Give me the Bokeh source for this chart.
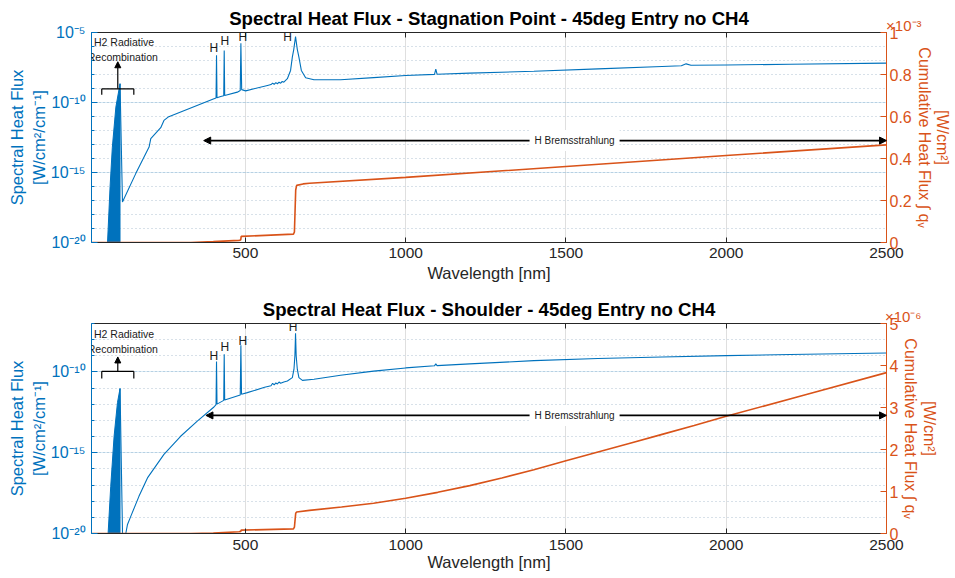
import math
import numpy as np
from bokeh.plotting import figure
from bokeh.models import (Range1d, LinearAxis, LinearScale, FixedTicker,
                          CustomJSTickFormatter, Label, Arrow, NormalHead, Title)
from bokeh.layouts import column
from bokeh.embed import file_html
from bokeh.resources import INLINE

FONT = "Liberation Sans"
BLUE = "#0072BD"
ORANGE = "#D95319"
DARK = "#262626"

X_RANGE = (20, 2500)
X_TICKS = [500, 1000, 1500, 2000, 2500]

# ---------------- Stagnation point (top) ----------------
STAG_TITLE = "Spectral Heat Flux - Stagnation Point - 45deg Entry no CH4"
STAG_H2_WL = [70, 78, 85, 96, 109]
STAG_H2_LOG10 = [-20.0, -16.0, -13.2, -10.33, -8.66]
STAG_WL = [109, 116.6, 158, 199.6, 204.9, 236, 246, 259, 402, 408.5, 410, 411.5,
           423, 432.5, 434, 435.5, 475, 484, 486, 488.5, 501, 569, 580, 585, 590,
           595, 600, 605, 610, 615, 620, 631, 641, 646.5, 651, 656.5, 662, 667,
           674.6, 688, 714, 797, 900, 1000, 1090, 1094, 1098, 1200, 1400, 1600,
           1800, 1860, 1875, 1890, 2000, 2200, 2500]
STAG_LOG10 = [-8.66, -17.1, -15.08, -13.18, -12.58, -11.80, -11.28, -11.04, -9.73,
              -9.68, -6.62, -9.66, -9.57, -9.52, -6.28, -9.50, -9.26, -9.15, -5.76,
              -9.08, -9.17, -8.78, -8.72, -8.62, -8.70, -8.58, -8.66, -8.55, -8.62,
              -8.50, -8.55, -8.30, -7.71, -6.76, -6.20, -5.29, -6.20, -6.76, -7.71,
              -8.23, -8.37, -8.37, -8.22, -8.07, -7.99, -7.62, -7.98, -7.90, -7.77,
              -7.60, -7.43, -7.38, -7.24, -7.34, -7.32, -7.27, -7.19]
STAG_CUM_WL = [20, 330, 400, 480, 485.5, 487, 650, 653, 655, 657, 660, 680, 700,
               1000, 1500, 2000, 2500]
STAG_CUM_E3 = [0, 0, 0.004, 0.010, 0.012, 0.029, 0.040, 0.050, 0.150, 0.250, 0.272,
               0.279, 0.282, 0.310, 0.362, 0.414, 0.465]          # x 1e-3 W/cm2
STAG_CUM_TICKS = [0, 0.2, 0.4, 0.6, 0.8, 1.0]

# ---------------- Shoulder (bottom) ----------------
SH_TITLE = "Spectral Heat Flux - Shoulder - 45deg Entry no CH4"
SH_H2_WL = [71.8, 80, 90.5, 101, 109]
SH_H2_LOG10 = [-20.0, -17.08, -13.98, -11.9, -11.03]
SH_WL = [109, 118.5, 125, 127, 132, 142.5, 168, 194.6, 246, 298, 350, 402, 408.5,
         410, 411.5, 432.5, 434, 435.5, 484, 486, 488, 506, 560, 580, 585, 590, 595,
         600, 605, 610, 620, 631, 646.5, 651.6, 654.5, 656.5, 658.5, 662, 667, 678,
         714, 797, 900, 1000, 1090, 1094, 1098, 1200, 1400, 1600, 1800, 2000, 2200,
         2500]
SH_LOG10 = [-11.03, -22.0, -21.0, -20.0, -19.46, -18.94, -17.7, -16.56, -15.1,
            -13.98, -13.04, -12.17, -12.02, -9.35, -11.99, -11.76, -8.9, -11.74,
            -11.42, -8.34, -11.38, -11.28, -10.95, -10.85, -10.70, -10.80, -10.68,
            -10.74, -10.62, -10.70, -10.62, -10.56, -10.35, -9.83, -9.0, -7.61,
            -9.0, -9.83, -10.35, -10.52, -10.45, -10.2, -9.95, -9.75, -9.62, -9.50,
            -9.61, -9.50, -9.30, -9.17, -9.07, -8.99, -8.92, -8.83]
SH_CUM_WL = [20, 330, 400, 480, 485.5, 487, 650, 653, 655, 657, 660, 700, 800, 900,
             1000, 1100, 1200, 1300, 1400, 1500, 1600, 1700, 1800, 1900, 2000, 2250,
             2500]
SH_CUM_E6 = [0, 0, 0.01, 0.04, 0.05, 0.08, 0.11, 0.15, 0.32, 0.48, 0.51, 0.55, 0.63,
             0.72, 0.84, 0.98, 1.14, 1.32, 1.52, 1.73, 1.94, 2.15, 2.36, 2.57, 2.79,
             3.31, 3.83]                                           # x 1e-6 W/cm2
SH_CUM_TICKS = [0, 1, 2, 3, 4, 5]

LEFT_LABEL = "Spectral Heat Flux\n[W/cm\u00b2/cm\u207b\u00b9]"
# right-side text is rotated the other way by Bokeh, so the unit line comes first
RIGHT_LABEL = "[W/cm\u00b2]\nCumulative Heat Flux \u222b q\u1d65"

# annotation placement (log10 heights)
STAG_ANN = dict(bracket=-9.02, bracket_tick=-9.44, arrow_top=-7.09, txt1=-5.66,
                txt2=-6.73, h_x=[401.6, 435.9, 492, 632], h_y=[-6.09, -5.59, -5.31, -5.31],
                brems_y=-12.72, brems_x0=370)
SH_ANN = dict(bracket=-9.96, bracket_tick=-10.41, arrow_top=-9.07, txt1=-7.67,
              txt2=-8.55, h_x=[401.6, 435.9, 492, 649], h_y=[-9.01, -8.48, -8.07, -7.24],
              brems_y=-12.69, brems_x0=377)

SUP_JS = """
const m = {'-':'\u207b','0':'\u2070','1':'\u00b9','2':'\u00b2','3':'\u00b3','4':'\u2074',
           '5':'\u2075','6':'\u2076','7':'\u2077','8':'\u2078','9':'\u2079'};
const e = String(Math.round(Math.log10(tick)));
let s = '10';
for (const c of e) { s += m[c]; }
return s;
"""


def style_text_axis(ax, col, size):
    ax.axis_line_color = col
    ax.major_tick_line_color = col
    ax.major_label_text_color = col
    ax.major_label_text_font = FONT
    ax.major_label_text_font_size = size
    ax.axis_label_text_color = col
    ax.axis_label_text_font = FONT
    ax.axis_label_text_font_style = "normal"


def panel(title, h2_wl, h2_log, wl, lg, cum_wl, cum, y_lo, y_hi, major_exps,
          cum_max, cum_ticks, exp_txt, ann, height, top, bottom, xlab_standoff,
          xtitle_standoff):
    p = figure(width=955, height=height, x_range=Range1d(*X_RANGE),
               y_range=Range1d(10.0 ** y_lo, 10.0 ** y_hi), y_axis_type="log",
               output_backend="svg", toolbar_location=None,
               min_border_left=91, min_border_right=69,
               min_border_top=top, min_border_bottom=bottom)
    p.extra_y_ranges = {"cum": Range1d(0, cum_max)}
    p.extra_y_scales = {"cum": LinearScale()}
    p.outline_line_color = None

    # grids
    p.xgrid.ticker = FixedTicker(ticks=X_TICKS)
    p.xgrid.grid_line_color = DARK
    p.xgrid.grid_line_alpha = 0.15
    yt = FixedTicker(ticks=[10.0 ** e for e in major_exps],
                     minor_ticks=[10.0 ** e for e in range(y_lo, y_hi + 1)])
    p.ygrid.ticker = yt
    p.ygrid.grid_line_color = BLUE
    p.ygrid.grid_line_alpha = 0.15
    p.ygrid.minor_grid_line_color = "#9fb4c8"
    p.ygrid.minor_grid_line_alpha = 0.8
    p.ygrid.minor_grid_line_dash = "1 3"

    # data
    floor = 10.0 ** (y_lo - 1)
    p.patch(list(h2_wl) + [h2_wl[-1]], [10.0 ** v for v in h2_log] + [floor],
            fill_color=BLUE, line_color=BLUE, line_width=1)
    p.line(wl, [10.0 ** v for v in lg], line_color=BLUE, line_width=1.1)
    p.line(cum_wl, cum, y_range_name="cum", line_color=ORANGE, line_width=1.6)

    # left (log) axis
    left = p.left[0]
    left.ticker = yt
    left.formatter = CustomJSTickFormatter(code=SUP_JS)
    style_text_axis(left, BLUE, "16px")
    left.minor_tick_line_color = BLUE
    left.major_tick_in, left.major_tick_out = 6, 0
    left.minor_tick_in, left.minor_tick_out = 3, 0
    left.major_label_standoff = 6
    left.axis_label = LEFT_LABEL
    left.axis_label_text_font_size = "16.5px"
    left.axis_label_standoff = 0

    # right (linear) axis
    right = LinearAxis(y_range_name="cum", ticker=FixedTicker(ticks=cum_ticks),
                       formatter=CustomJSTickFormatter(code="return String(Math.round(tick*10)/10);"))
    style_text_axis(right, ORANGE, "16px")
    right.minor_tick_line_color = None
    right.major_tick_in, right.major_tick_out = 6, 0
    right.major_label_standoff = 3
    right.axis_label = RIGHT_LABEL
    right.axis_label_text_font_size = "16px"
    right.axis_label_text_line_height = 1.1
    right.axis_label_standoff = 1
    p.add_layout(right, "right")

    # bottom axis
    bot = p.below[0]
    bot.ticker = FixedTicker(ticks=X_TICKS)
    style_text_axis(bot, DARK, "15.5px")
    bot.minor_tick_line_color = None
    bot.major_tick_in, bot.major_tick_out = 5, 0
    bot.major_label_standoff = xlab_standoff
    bot.axis_label = "Wavelength [nm]"
    bot.axis_label_text_font_size = "16.5px"
    bot.axis_label_standoff = xtitle_standoff

    # top box edge with ticks
    topax = LinearAxis(ticker=FixedTicker(ticks=X_TICKS),
                       formatter=CustomJSTickFormatter(code="return '';"))
    topax.axis_line_color = DARK
    topax.major_tick_line_color = DARK
    topax.minor_tick_line_color = None
    topax.major_tick_in, topax.major_tick_out = 5, 0
    topax.major_label_standoff = 0
    topax.major_label_text_font_size = "1px"
    p.add_layout(topax, "above")

    # exponent of the right axis, above its top end
    p.add_layout(Title(text=exp_txt, align="right", offset=-35, vertical_align="middle",
                       standoff=-5, text_font=FONT, text_font_size="15px",
                       text_font_style="normal", text_color=ORANGE), "above")

    # plot title (outermost, same row as the exponent)
    p.title.text = title
    p.title.align = "center"
    p.title.vertical_align = "middle"
    p.title.standoff = -22
    p.title.text_font = FONT
    p.title.text_font_size = "18.6px"
    p.title.text_font_style = "bold"
    p.title.text_color = "black"

    def lab(**kw):
        d = dict(text_font=FONT, text_align="center", text_baseline="middle")
        d.update(kw)
        p.add_layout(Label(**d))

    # H2 recombination bracket + arrow
    b = 10.0 ** ann["bracket"]
    bt = 10.0 ** ann["bracket_tick"]
    p.segment(x0=[52, 52, 152], y0=[b, b, b], x1=[152, 52, 152], y1=[b, bt, bt],
              line_color="black", line_width=1.2)
    p.add_layout(Arrow(x_start=102, y_start=b, x_end=102, y_end=10.0 ** ann["arrow_top"],
                       line_color="black", line_width=1.2,
                       end=NormalHead(size=6, fill_color="black", line_color="black")))
    lab(x=121.5, y=10.0 ** ann["txt1"], text="H2 Radiative", text_font_size="10.5px",
        text_color="#1a1a1a")
    lab(x=117.6, y=10.0 ** ann["txt2"], text="Recombination", text_font_size="10.5px",
        text_color="#1a1a1a")
    for hx, hy in zip(ann["h_x"], ann["h_y"]):
        lab(x=hx, y=10.0 ** hy, text="H", text_font_size="12px", text_color="#1a1a1a")

    # Bremsstrahlung arrow
    by = 10.0 ** ann["brems_y"]
    p.add_layout(Arrow(x_start=ann["brems_x0"], y_start=by, x_end=X_RANGE[1], y_end=by,
                       line_color="black", line_width=1.8,
                       start=NormalHead(size=7, fill_color="black", line_color="black"),
                       end=NormalHead(size=7, fill_color="black", line_color="black")))
    bl = Label(x=1527, y=by, text="H Bremsstrahlung", text_font=FONT, text_font_size="10px",
               text_align="center", text_baseline="middle", text_color="#1a1a1a",
               background_fill_color="white")
    if "padding" in Label.properties():
        bl.padding = 5
    p.add_layout(bl)
    return p


p1 = panel(STAG_TITLE, STAG_H2_WL, STAG_H2_LOG10, STAG_WL, STAG_LOG10, STAG_CUM_WL,
           STAG_CUM_E3, -20, -5, [-20, -15, -10, -5], 1.0, STAG_CUM_TICKS,
           "\u00d710\u207b\u00b3", STAG_ANN, height=290, top=32, bottom=48,
           xlab_standoff=5, xtitle_standoff=3)
p2 = panel(SH_TITLE, SH_H2_WL, SH_H2_LOG10, SH_WL, SH_LOG10, SH_CUM_WL, SH_CUM_E6,
           -20, -7, [-20, -15, -10], 5.0, SH_CUM_TICKS,
           "\u00d710\u207b\u2076", SH_ANN, height=288, top=33, bottom=45,
           xlab_standoff=6, xtitle_standoff=0)

layout = column(p1, p2, spacing=0)
open("out.html", "w").write(file_html(layout, INLINE))
